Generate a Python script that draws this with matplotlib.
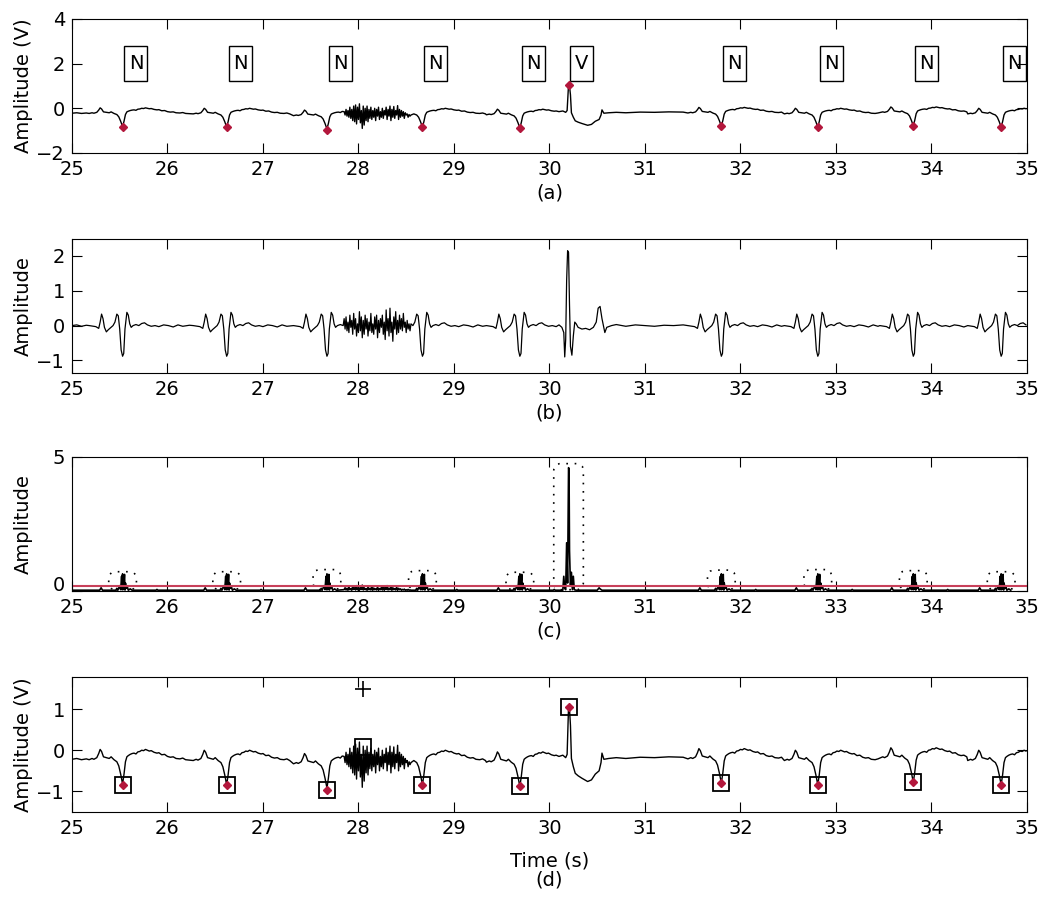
import numpy as np
import matplotlib
matplotlib.use("Agg")
import matplotlib.pyplot as plt
from matplotlib.patches import Rectangle, FancyBboxPatch

plt.rcParams['font.family'] = ['DejaVu Sans']
plt.rcParams['font.size'] = 14

# detected beats (s), labels and R-peak amplitude (V)
beat_times = [25.53, 26.62, 27.67, 28.67, 29.69, 30.20, 31.80, 32.81, 33.81, 34.73]
beat_labels = ['N', 'N', 'N', 'N', 'N', 'V', 'N', 'N', 'N', 'N']
peak_vals = [-0.84, -0.84, -0.96, -0.84, -0.88, 1.06, -0.80, -0.84, -0.77, -0.84]
raw_offsets = [0.02, 0.0, -0.08, 0.0, -0.04, 0.0, 0.04, 0.0, 0.06, 0.0]
# energy envelope tops (dotted outlines in c)
outline_tops = [0.72, 0.72, 0.80, 0.76, 0.70, 4.75, 0.78, 0.80, 0.76, 0.72]
threshold = 0.19
# false candidate in (d)
false_t = 28.05
false_v = 0.07
cross_v = 1.50

# start of the record, before the first beat
lead_t = [25.0, 25.05, 25.1, 25.15]
raw_lead = [-0.22, -0.20, -0.23, -0.21]
bp_lead = [0.0, 0.02, -0.02, 0.01]
en_lead = [0.03, 0.03, 0.03, 0.03]

# normal beat shapes, time relative to R peak
n_raw_dt = [-0.35, -0.32, -0.30, -0.27, -0.25, -0.235, -0.22, -0.20, -0.17, -0.14, -0.12,
            -0.09, -0.06, -0.04, -0.02, 0.0, 0.015, 0.03, 0.045, 0.06, 0.08, 0.10, 0.12,
            0.14, 0.16, 0.18, 0.20, 0.22, 0.24, 0.26, 0.28, 0.30, 0.33, 0.36, 0.38, 0.41,
            0.44, 0.47, 0.50, 0.53, 0.56, 0.60, 0.63, 0.66, 0.70]
n_raw_v = [-0.25, -0.22, -0.24, -0.20, -0.10, 0.00, -0.05, -0.18, -0.20, -0.22, -0.18,
           -0.25, -0.30, -0.40, -0.60, -0.84, -0.60, -0.30, -0.18, -0.15, -0.12, -0.10,
           -0.09, -0.11, -0.06, -0.05, -0.02, -0.03, 0.00, -0.02, -0.04, -0.03, -0.07,
           -0.09, -0.08, -0.13, -0.12, -0.17, -0.19, -0.18, -0.22, -0.23, -0.21, -0.25,
           -0.26]

n_bp_dt = [-0.35, -0.28, -0.25, -0.235, -0.22, -0.205, -0.19, -0.17, -0.15, -0.12, -0.10,
           -0.08, -0.06, -0.045, -0.03, -0.015, 0.0, 0.012, 0.025, 0.045, 0.06, 0.075,
           0.09, 0.11, 0.14, 0.17, 0.20, 0.23, 0.26, 0.30, 0.34, 0.38, 0.43, 0.48, 0.53,
           0.58, 0.63, 0.70]
n_bp_v = [0.0, -0.03, -0.08, 0.10, 0.33, 0.20, -0.05, -0.18, -0.12, -0.05, 0.0,
          0.10, 0.33, 0.28, -0.10, -0.70, -0.88, -0.80, -0.10, 0.38, 0.30, 0.05,
          -0.05, 0.0, 0.03, 0.0, 0.06, 0.08, 0.02, -0.02, 0.0, -0.03, 0.02, 0.0, -0.04,
          0.02, -0.02, 0.01]

n_en_dt = [-0.35, -0.24, -0.225, -0.21, -0.07, -0.06, -0.05, -0.03, -0.02, -0.01, -0.005,
           0.0, 0.005, 0.01, 0.02, 0.025, 0.03, 0.04, 0.05, 0.06, 0.08, 0.10, 0.35, 0.36,
           0.37, 0.70]
n_en_v = [0.03, 0.03, 0.12, 0.03, 0.03, 0.10, 0.03, 0.20, 0.05, 0.55, 0.05,
          0.64, 0.05, 0.10, 0.62, 0.05, 0.30, 0.10, 0.15, 0.03, 0.08, 0.03, 0.03, 0.06,
          0.03, 0.03]

# ventricular beat shapes
v_raw_dt = [-0.10, -0.06, -0.03, -0.015, -0.005, 0.0, 0.01, 0.02, 0.03, 0.05, 0.07, 0.10,
            0.14, 0.20, 0.24, 0.28, 0.32, 0.34, 0.35, 0.37, 0.42, 0.50, 0.60, 0.75, 0.90,
            1.05, 1.20]
v_raw_v = [-0.15, -0.12, -0.18, -0.10, 0.70, 1.06, 1.00, 0.60, -0.20, -0.40, -0.56, -0.62,
           -0.68, -0.76, -0.72, -0.58, -0.50, -0.30, -0.07, -0.22, -0.20, -0.18, -0.20,
           -0.17, -0.18, -0.16, -0.17]

v_bp_dt = [-0.10, -0.07, -0.05, -0.04, -0.03, -0.02, -0.01, 0.0, 0.01, 0.02, 0.035, 0.05,
           0.065, 0.08, 0.10, 0.14, 0.18, 0.22, 0.26, 0.29, 0.31, 0.33, 0.35, 0.38, 0.40,
           0.45, 0.50, 0.60, 0.70, 0.80, 0.90, 1.00, 1.10, 1.20]
v_bp_v = [0.02, -0.05, -0.20, -0.90, -0.40, 1.30, 2.15, 2.10, 0.60, -0.60, -0.85, -0.30,
          0.10, 0.05, -0.05, -0.10, -0.08, -0.12, -0.05, 0.10, 0.50, 0.55, 0.20, -0.20,
          -0.05, 0.0, 0.03, -0.02, 0.02, 0.0, -0.02, 0.01, 0.0, 0.02]

v_en_dt = [-0.10, -0.06, -0.05, -0.04, -0.03, -0.02, -0.01, 0.0, 0.005, 0.01, 0.02, 0.03,
           0.04, 0.05, 0.06, 0.08, 0.12, 0.30, 0.32, 0.33, 0.35, 0.50, 1.20]
v_en_v = [0.03, 0.03, 0.55, 0.10, 0.05, 1.80, 0.30, 4.60, 4.55, 1.50, 0.20, 0.70,
          0.05, 0.55, 0.05, 0.03, 0.03, 0.03, 0.12, 0.08, 0.03, 0.03, 0.03]

# noise burst, one sample every 10 ms from 27.85 s
noise_start = 27.85
noise_step = 0.01
noise_raw = [-0.15, -0.30, -0.05, -0.35, -0.10, -0.40, 0.05, -0.45, -0.05, -0.55,
             0.10, -0.60, 0.15, -0.70, 0.05, -0.50, 0.20, -0.65, -0.10, -0.90,
             0.10, -0.75, 0.00, -0.55, 0.10, -0.60, -0.05, -0.45, 0.05, -0.50,
             -0.10, -0.40, 0.00, -0.55, -0.05, -0.35, 0.05, -0.50, -0.15, -0.40,
             0.00, -0.45, -0.10, -0.30, 0.05, -0.50, -0.05, -0.35, 0.10, -0.55,
             -0.05, -0.40, 0.08, -0.45, -0.10, -0.30, 0.12, -0.50, -0.05, -0.40,
             -0.10, -0.35, -0.15, -0.45, -0.20, -0.30, -0.25, -0.40, -0.28, -0.35, -0.30]
noise_bp = [0.20, -0.10, 0.25, -0.15, 0.10, -0.20, 0.30, -0.05, 0.15, -0.25,
            0.35, -0.10, 0.20, -0.30, 0.05, -0.20, 0.40, -0.15, 0.25, -0.35,
            0.15, -0.25, 0.30, -0.10, 0.20, -0.30, 0.10, -0.15, 0.35, -0.20,
            0.05, -0.25, 0.25, -0.10, 0.30, -0.35, 0.15, -0.20, 0.20, -0.05,
            0.30, -0.25, 0.10, -0.40, 0.45, -0.15, 0.20, -0.30, 0.50, -0.20,
            0.10, -0.45, 0.25, -0.10, 0.40, -0.25, 0.15, -0.20, 0.30, -0.10,
            0.20, -0.15, 0.35, -0.05, 0.10, -0.20, 0.15, -0.10, 0.05, -0.15, 0.05]
noise_en = [0.05, 0.12, 0.04, 0.10, 0.03, 0.15, 0.05, 0.08, 0.03, 0.18,
            0.06, 0.12, 0.04, 0.20, 0.05, 0.10, 0.03, 0.16, 0.06, 0.22,
            0.04, 0.12, 0.05, 0.09, 0.03, 0.14, 0.05, 0.10, 0.04, 0.17,
            0.03, 0.11, 0.05, 0.08, 0.04, 0.15, 0.03, 0.09, 0.05, 0.13,
            0.04, 0.18, 0.03, 0.12, 0.06, 0.20, 0.04, 0.10, 0.05, 0.16,
            0.03, 0.12, 0.05, 0.09, 0.04, 0.14, 0.03, 0.10, 0.05, 0.08,
            0.03, 0.06, 0.04, 0.07, 0.03, 0.05, 0.03, 0.06, 0.03, 0.04, 0.03]


def build(lead_v, n_dt, n_v, v_dt, v_v, noise_v, offsets=None):
    noise_t = noise_start + noise_step * np.arange(len(noise_v))
    noise_end = noise_t[-1]
    t = list(lead_t)
    v = list(lead_v)
    shapes = {'N': (n_dt, n_v), 'V': (v_dt, v_v)}
    for i, t0 in enumerate(beat_times):
        dt, vals = shapes[beat_labels[i]]
        off = offsets[i] if offsets is not None else 0.0
        if i + 1 < len(beat_times):
            nxt = beat_times[i + 1] + shapes[beat_labels[i + 1]][0][0]
        else:
            nxt = 35.0 + 1e-6
        for d, val in zip(dt, vals):
            tt = t0 + d
            if tt <= t[-1] or tt >= nxt:
                continue
            if noise_start <= tt <= noise_end:
                continue
            if tt > noise_end and t[-1] < noise_start:
                t.extend(noise_t)
                v.extend(noise_v)
            t.append(tt)
            v.append(val + off)
    return np.array(t), np.array(v)


raw_t, raw_v = build(raw_lead, n_raw_dt, n_raw_v, v_raw_dt, v_raw_v, noise_raw, raw_offsets)
bp_t, bp_v = build(bp_lead, n_bp_dt, n_bp_v, v_bp_dt, v_bp_v, noise_bp)
en_t, en_v = build(en_lead, n_en_dt, n_en_v, v_en_dt, v_en_v, noise_en)

red = '#b3173c'
fig = plt.figure(figsize=(10.43, 9), dpi=100)
left, width = 0.069, 0.9156
axa = fig.add_axes([left, 0.830, width, 0.149])
axb = fig.add_axes([left, 0.5856, width, 0.149])
axc = fig.add_axes([left, 0.3433, width, 0.149])
axd = fig.add_axes([left, 0.0978, width, 0.150])

for ax in (axa, axb, axc, axd):
    ax.set_xlim(25, 35)
    ax.set_xticks(range(25, 36))
    ax.tick_params(direction='in', top=True, right=True, length=7, pad=5)
    ax.yaxis.set_label_coords(-0.041, 0.5)

# (a) raw ECG with beat annotations
axa.plot(raw_t, raw_v, color='black', lw=1.0)
axa.plot(beat_times, peak_vals, 'D', color=red, ms=4.5)
for t0, lab in zip(beat_times, beat_labels):
    axa.add_patch(Rectangle((t0 + 0.02, 1.22), 0.24, 1.57, fill=False, ec='black', lw=1))
    axa.text(t0 + 0.14, 2.0, lab, ha='center', va='center', fontsize=14)
axa.set_ylim(-2, 4)
axa.set_yticks([-2, 0, 2, 4])
axa.set_ylabel('Amplitude (V)')
axa.set_xlabel('(a)', labelpad=3)

# (b) band-pass filtered
axb.plot(bp_t, bp_v, color='black', lw=0.9)
axb.set_ylim(-1.36, 2.49)
axb.set_yticks([-1, 0, 1, 2])
axb.set_ylabel('Amplitude')
axb.set_xlabel('(b)', labelpad=3)

# (c) energy with threshold and search windows
axc.plot(en_t, en_v, color='black', lw=1.2)
axc.axhline(threshold, color='#c8405a', lw=1.5)
aspect = (5 / 134) / (10 / 955)
for t0, top in zip(beat_times, outline_tops):
    hw = 0.155 if top > 2 else 0.145
    axc.add_patch(FancyBboxPatch((t0 - hw, 0.05), 2 * hw, top - 0.05,
                                 boxstyle='round,pad=0,rounding_size=0.075',
                                 mutation_aspect=aspect, fill=False, ec='black',
                                 lw=1.2, ls=(0, (1, 4))))
axc.set_ylim(0, 5)
axc.set_yticks([0, 5])
axc.yaxis.get_major_ticks()[0].label1.set_va('baseline')
axc.set_ylabel('Amplitude')
axc.set_xlabel('(c)', labelpad=3)

# (d) final detections
axd.plot(raw_t, raw_v, color='black', lw=1.0)
axd.plot(beat_times, peak_vals, 's', ms=11, mfc='none', mec='black', mew=1.3)
axd.plot([false_t], [false_v], 's', ms=11, mfc='none', mec='black', mew=1.3)
axd.plot([false_t], [cross_v], '+', ms=11, color='black', mew=1.2)
axd.plot(beat_times, peak_vals, 'D', color=red, ms=4.5)
axd.set_ylim(-1.5, 1.78)
axd.set_yticks([-1, 0, 1])
axd.set_ylabel('Amplitude (V)')
axd.set_xlabel('Time (s)\n(d)', labelpad=10, linespacing=0.95)

fig.savefig('out.png', dpi=100)
